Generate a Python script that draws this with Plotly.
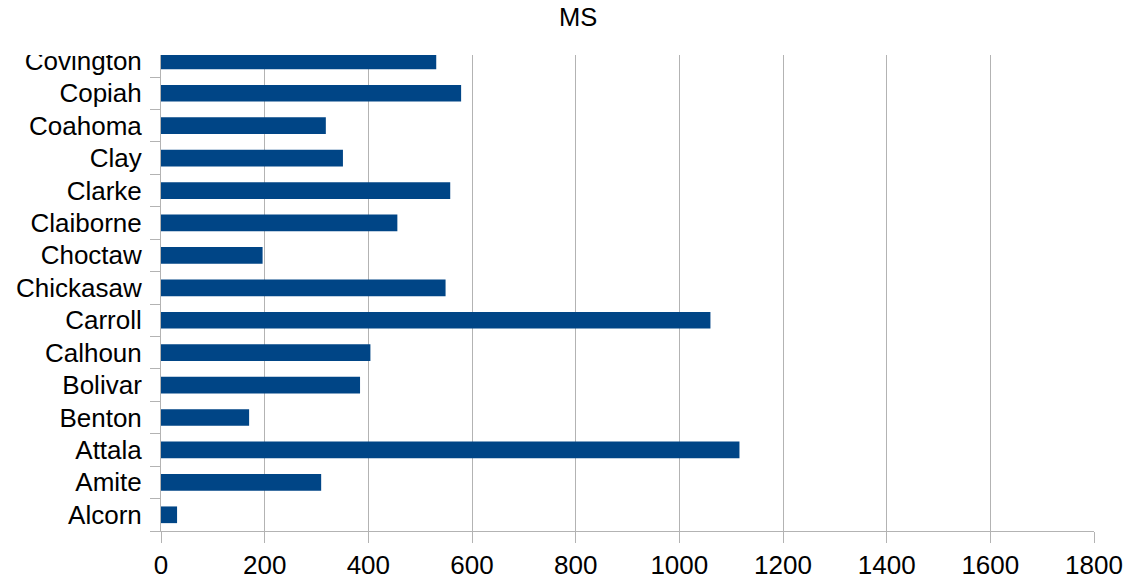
import plotly.graph_objects as go

# counties, bottom to top as drawn
counties = ["Alcorn", "Amite", "Attala", "Benton", "Bolivar", "Calhoun", "Carroll",
            "Chickasaw", "Choctaw", "Claiborne", "Clarke", "Clay", "Coahoma",
            "Copiah", "Covington"]
values = [31, 309, 1116, 170, 384, 404, 1060, 549, 196, 456, 558, 351, 318, 579, 531]
x_ticks = [0, 200, 400, 600, 800, 1000, 1200, 1400, 1600, 1800]

W, H = 1129, 588
L, R, T, B = 161, 35, 55, 57

fig = go.Figure(go.Bar(
    y=counties, x=values, orientation="h",
    marker=dict(color="#004586", line=dict(width=0)),
))

fig.update_layout(
    width=W, height=H,
    margin=dict(l=L, r=R, t=T, b=B),
    paper_bgcolor="white", plot_bgcolor="white",
    font=dict(family="Liberation Sans", size=26, color="#000000"),
    bargap=0.485,
    showlegend=False,
    annotations=[dict(text="MS", xref="paper", yref="paper",
                      x=(578 - L) / (W - L - R), y=1 + (T - 17) / (H - T - B),
                      xanchor="center", yanchor="middle", showarrow=False,
                      font=dict(size=25.5))],
    # clip the top label like the original plot area does
    shapes=[dict(type="rect", xref="paper", yref="paper", layer="above",
                 x0=-0.2, x1=-0.001, y0=1.0, y1=1.05,
                 fillcolor="white", line=dict(width=0))],
)

fig.update_xaxes(
    range=[0, 1800], tickvals=x_ticks, automargin=False,
    showgrid=True, gridcolor="#b3b3b3", gridwidth=1,
    showline=True, linecolor="#b3b3b3", linewidth=1,
    ticks="outside", ticklen=11, tickcolor="#b3b3b3",
    zeroline=False, fixedrange=True,
)
fig.update_yaxes(
    range=[-0.5, 14.18], type="category", automargin=False,
    showgrid=False,
    showline=True, linecolor="#b3b3b3", linewidth=1,
    ticks="outside", ticklen=10, tickcolor="#b3b3b3", tickson="boundaries",
    ticklabelstandoff=13, fixedrange=True,
)

# drop the page's default body margin so the figure sits at the top-left corner
fig.write_html("out.html", config={"displayModeBar": False},
               post_script="document.body.style.margin='0';")
